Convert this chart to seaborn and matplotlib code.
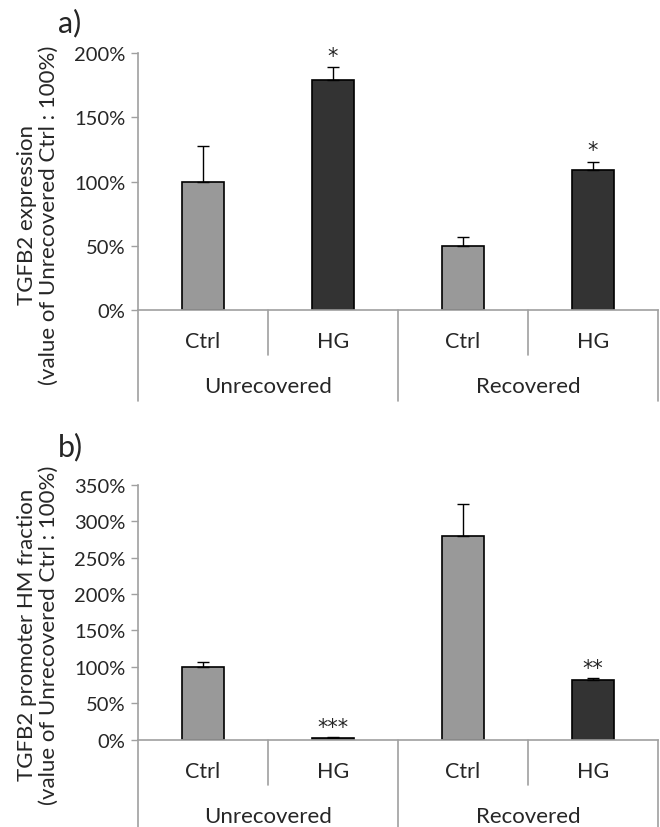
import numpy as np
import pandas as pd
import seaborn as sns
import matplotlib.pyplot as plt
import matplotlib.transforms as mtransforms

# Values (percent of Unrecovered Ctrl)
conditions = ["Ctrl", "HG", "Ctrl", "HG"]
groups = ["Unrecovered", "Recovered"]
bar_ids = ["U-Ctrl", "U-HG", "R-Ctrl", "R-HG"]

expr_mean = [100, 179, 50, 109]
expr_err = [28, 10, 7, 6.5]
expr_stars = ["", "*", "", "*"]

hm_mean = [100, 3, 280, 82]
hm_err = [6, 1, 44, 3]
hm_stars = ["", "***", "", "**"]

bar_colors = ["#999999", "#333333", "#999999", "#333333"]
axis_gray = "#a0a0a0"

sns.set_style("white")
plt.rcParams["font.family"] = ["Lato", "DejaVu Sans"]

fig = plt.figure(figsize=(6.6, 8.28), dpi=100)
W, H = 660, 828


def panel(rect, means, errs, stars, ymax, ystep, ylabel, label_y, letter, letter_px,
          inner_px, outer_px, star_pad):
    ax = fig.add_axes(rect)
    df = pd.DataFrame({"bar": bar_ids, "value": means})
    sns.barplot(data=df, x="bar", y="value", hue="bar", palette=bar_colors,
                legend=False, width=0.32, edgecolor="black", linewidth=1.2, ax=ax)
    x = np.arange(len(means))
    ax.errorbar(x, means, yerr=[np.zeros(len(errs)), errs], fmt="none",
                ecolor="black", elinewidth=1.0, capsize=4, capthick=1.0)
    for xi, m, e, s in zip(x, means, errs, stars):
        if s:
            ax.text(xi, m + e + star_pad, s, ha="center", va="bottom",
                    fontsize=15, family="DejaVu Sans")
    ax.set_xlim(-0.5, 3.5)
    ax.set_ylim(0, ymax)
    ticks = np.arange(0, ymax + 1, ystep)
    ax.set_yticks(ticks)
    ax.set_yticklabels([f"{int(v)}%" for v in ticks], fontsize=14.5)
    ax.tick_params(axis="y", length=5, width=1, color=axis_gray, pad=4, left=True)
    ax.set_xticks([])
    ax.set_xlabel("")
    ax.set_ylabel(ylabel, fontsize=16, linespacing=1.15)
    ax.yaxis.set_label_coords(-0.152, label_y)
    for side in ["top", "right"]:
        ax.spines[side].set_visible(False)
    for side in ["left", "bottom"]:
        ax.spines[side].set_color(axis_gray)
        ax.spines[side].set_linewidth(1.2)

    # category table below the axis
    trans = mtransforms.blended_transform_factory(ax.transData, ax.transAxes)
    ax_h_px = rect[3] * H
    inner = -inner_px / ax_h_px
    outer = -outer_px / ax_h_px
    for xs in [0.5, 2.5]:
        ax.plot([xs, xs], [0, inner], transform=trans, color=axis_gray, lw=1.2, clip_on=False)
    for xs in [-0.5, 1.5, 3.5]:
        ax.plot([xs, xs], [0, outer], transform=trans, color=axis_gray, lw=1.2, clip_on=False)
    for xi, c in zip(x, conditions):
        ax.text(xi, -31 / ax_h_px, c, transform=trans, ha="center", va="center", fontsize=15.5)
    for gi, g in enumerate(groups):
        ax.text(0.5 + 2 * gi, -76 / ax_h_px, g, transform=trans, ha="center", va="center", fontsize=16)
    fig.text(rect[0] - 80 / W, rect[1] + rect[3] + letter_px / H, letter,
             fontsize=22, ha="left", va="center")
    return ax


panel([138 / W, 517 / H, 520 / W, 257 / H], expr_mean, expr_err, expr_stars, 200, 50,
      "TGFB2 expression\n(value of Unrecovered Ctrl : 100%)", 0.374, "a)", 31, 45, 91, 1)
panel([138 / W, 87.3 / H, 520 / W, 255 / H], hm_mean, hm_err, hm_stars, 350, 50,
      "TGFB2 promoter HM fraction\n(value of Unrecovered Ctrl : 100%)", 0.415, "b)", 39, 45, 88, 0)

fig.savefig("out.png", dpi=100)
